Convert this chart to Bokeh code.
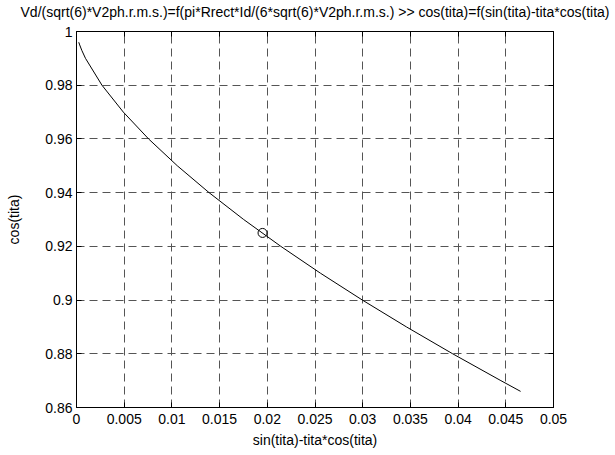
from bokeh.plotting import figure
from bokeh.models import Range1d, FixedTicker, LinearAxis, CustomJSTickFormatter
from bokeh.embed import file_html
from bokeh.resources import INLINE

# data: (sin(tita)-tita*cos(tita), cos(tita))
x_vals = [0.000239, 0.000335, 0.000552, 0.000943, 0.002669, 0.004906, 0.007558,
          0.010568, 0.013898, 0.017523, 0.021419, 0.025572, 0.029966, 0.034590,
          0.039432, 0.044486, 0.046550]
y_vals = [0.996, 0.995, 0.993, 0.99, 0.98, 0.97, 0.96,
          0.95, 0.94, 0.93, 0.92, 0.91, 0.90, 0.89,
          0.88, 0.87, 0.866]
marker_x = [0.0195]
marker_y = [0.925]

x_ticks = [0, 0.005, 0.01, 0.015, 0.02, 0.025, 0.03, 0.035, 0.04, 0.045, 0.05]
x_tick_labels = ["0", "0.005", "0.01", "0.015", "0.02", "0.025", "0.03", "0.035", "0.04", "0.045", "0.05"]
y_ticks = [0.86, 0.88, 0.9, 0.92, 0.94, 0.96, 0.98, 1.0]
y_tick_labels = ["0.86", "0.88", "0.9", "0.92", "0.94", "0.96", "0.98", "1"]

title_text = "Vd/(sqrt(6)*V2ph.r.m.s.)=f(pi*Rrect*Id/(6*sqrt(6)*V2ph.r.m.s.) >> cos(tita)=f(sin(tita)-tita*cos(tita)"
x_label = "sin(tita)-tita*cos(tita)"
y_label = "cos(tita)"

FONT = "Liberation Sans"
FS = "14px"

p = figure(width=615, height=455, output_backend="svg", toolbar_location=None,
           x_range=Range1d(0, 0.05), y_range=Range1d(0.86, 1.0),
           min_border_left=76, min_border_right=62, min_border_top=31, min_border_bottom=48)
p.background_fill_color = "white"
p.border_fill_color = "white"
p.outline_line_color = "black"
p.outline_line_width = 1

for ax in (p.xaxis[0], p.yaxis[0]):
    ax.major_label_text_font = FONT
    ax.major_label_text_font_size = FS
    ax.axis_label_text_font = FONT
    ax.axis_label_text_font_size = FS
    ax.axis_label_text_font_style = "normal"
    ax.axis_label_text_color = "black"
    ax.major_tick_in = 5
    ax.major_tick_out = 0
    ax.minor_tick_in = 0
    ax.minor_tick_out = 0
    ax.axis_line_color = "black"
    ax.major_tick_line_color = "black"
    ax.major_label_text_color = "black"

p.xaxis.ticker = FixedTicker(ticks=x_ticks)
p.yaxis.ticker = FixedTicker(ticks=y_ticks)
p.xaxis.major_label_overrides = {v: s for v, s in zip(x_ticks, x_tick_labels)}
p.yaxis.major_label_overrides = {v: s for v, s in zip(y_ticks, y_tick_labels)}
p.xaxis.axis_label = x_label
p.yaxis.axis_label = y_label
p.xaxis.major_label_standoff = 6
p.xaxis.axis_label_standoff = 5
p.yaxis.major_label_standoff = 4
p.yaxis.axis_label_standoff = 20

blank = CustomJSTickFormatter(code="return ''")
# top axis: inward ticks, its label carries the chart title
top_ax = LinearAxis(ticker=FixedTicker(ticks=x_ticks), formatter=blank,
                    major_tick_in=5, major_tick_out=0, minor_tick_in=0, minor_tick_out=0,
                    major_label_standoff=0, major_label_text_font_size="0px",
                    axis_label=title_text, axis_label_standoff=12,
                    axis_label_text_font=FONT, axis_label_text_font_size="14px",
                    axis_label_text_font_style="normal", axis_label_text_color="black",
                    axis_line_color="black", major_tick_line_color="black")
right_ax = LinearAxis(ticker=FixedTicker(ticks=y_ticks), formatter=blank,
                      major_tick_in=5, major_tick_out=0, minor_tick_in=0, minor_tick_out=0,
                      major_label_standoff=0, major_label_text_font_size="0px",
                      axis_line_color="black", major_tick_line_color="black")
p.add_layout(top_ax, "above")
p.add_layout(right_ax, "right")

p.xgrid.ticker = FixedTicker(ticks=x_ticks)
p.ygrid.ticker = FixedTicker(ticks=y_ticks)
for g in (p.xgrid[0], p.ygrid[0]):
    g.grid_line_color = "#555555"
    g.grid_line_dash = "8 5"
    g.grid_line_width = 1
    g.grid_line_alpha = 1.0

p.line(x_vals, y_vals, line_color="black", line_width=1)
p.scatter(marker_x, marker_y, marker="circle", size=9, fill_color=None,
          line_color="black", line_width=1)

open("out.html", "w").write(file_html(p, INLINE))
